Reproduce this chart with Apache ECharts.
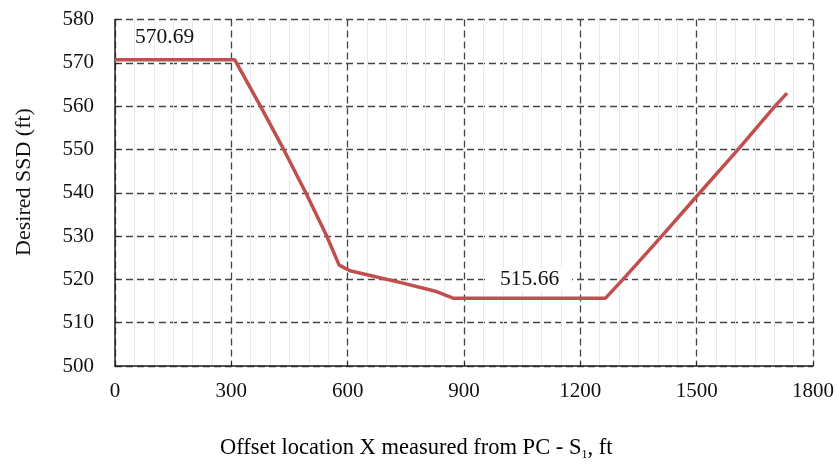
<!DOCTYPE html>
<html>
<head>
<meta charset="utf-8">
<script src="https://cdn.jsdelivr.net/npm/echarts@6/dist/echarts.min.js"></script>
<style>html,body{margin:0;padding:0;background:#fff}#c{width:837px;height:465px}</style>
</head>
<body>
<div id="c"></div>
<script>
// Data
var xValues = [0, 309, 375, 435, 492, 546, 578, 606, 653, 740, 829, 872, 1265, 1310, 1410, 1508, 1607, 1702, 1733];
var ssdValues = [570.69, 570.69, 560, 550, 540, 530, 523.3, 522.0, 521.0, 519.2, 517.2, 515.66, 515.66, 520, 530, 540, 550, 560, 563.0];
var annotations = ['570.69', '515.66'];
var xTitle = ['Offset location X measured from PC - S', '1', ', ft'];
var yTitle = 'Desired SSD (ft)';

var pts = xValues.map(function (x, i) { return [x, ssdValues[i]]; });
var serif = 'Liberation Serif';
var chart = echarts.init(document.getElementById('c'));
var dash = { color: '#444', width: 1.3, type: [7, 4] };
chart.setOption({
  animation: false,
  backgroundColor: '#fff',
  grid: { left: 115, right: 24, top: 19.5, bottom: 99, containLabel: false },
  xAxis: {
    type: 'value', min: 0, max: 1800, interval: 300,
    axisLine: { show: true, lineStyle: { color: '#222', width: 1.5 } },
    axisTick: { show: true, inside: true, length: 4, lineStyle: { color: '#222' } },
    axisLabel: { fontFamily: serif, fontSize: 21, color: '#111', margin: 15, formatter: function (v) { return String(v); } },
    splitLine: { show: true, lineStyle: dash },
    minorSplitLine: { show: true, lineStyle: { color: '#e9e9e9', width: 1 } },
    minorTick: { show: false, splitNumber: 6 }
  },
  yAxis: {
    type: 'value', min: 500, max: 580, interval: 10,
    axisLine: { show: true, lineStyle: { color: '#222', width: 1.5 } },
    axisTick: { show: true, inside: true, length: 4, lineStyle: { color: '#222' } },
    axisLabel: { fontFamily: serif, fontSize: 21, color: '#111', margin: 21 },
    splitLine: { show: true, lineStyle: dash }
  },
  series: [{
    type: 'line', data: pts, symbol: 'none',
    lineStyle: { color: '#c0504d', width: 3.5 }, z: 5
  }],
  graphic: [
    { type: 'text', x: 135, y: 37, z: 10, style: { text: annotations[0], font: '21.5px "Liberation Serif"', fill: '#111', verticalAlign: 'middle' } },
    { type: 'text', x: 487, y: 279, z: 10, style: { text: annotations[1], font: '21.5px "Liberation Serif"', fill: '#111', verticalAlign: 'middle', backgroundColor: '#fff', padding: [0, 13, 0, 13] } },
    { type: 'text', x: 24, y: 182, rotation: Math.PI / 2, style: { text: yTitle, font: '22px "Liberation Serif"', fill: '#111', align: 'center', verticalAlign: 'middle' } },
    { type: 'text', left: 220, top: 437, style: {
      text: '{a|' + xTitle[0] + '}{s|' + xTitle[1] + '}{a|' + xTitle[2] + '}',
      rich: {
        a: { fontFamily: serif, fontSize: 22.5, color: '#111' },
        s: { fontFamily: serif, fontSize: 12, color: '#111', padding: [12, 0, 0, 0] }
      }
    } }
  ]
});
</script>
</body>
</html>
